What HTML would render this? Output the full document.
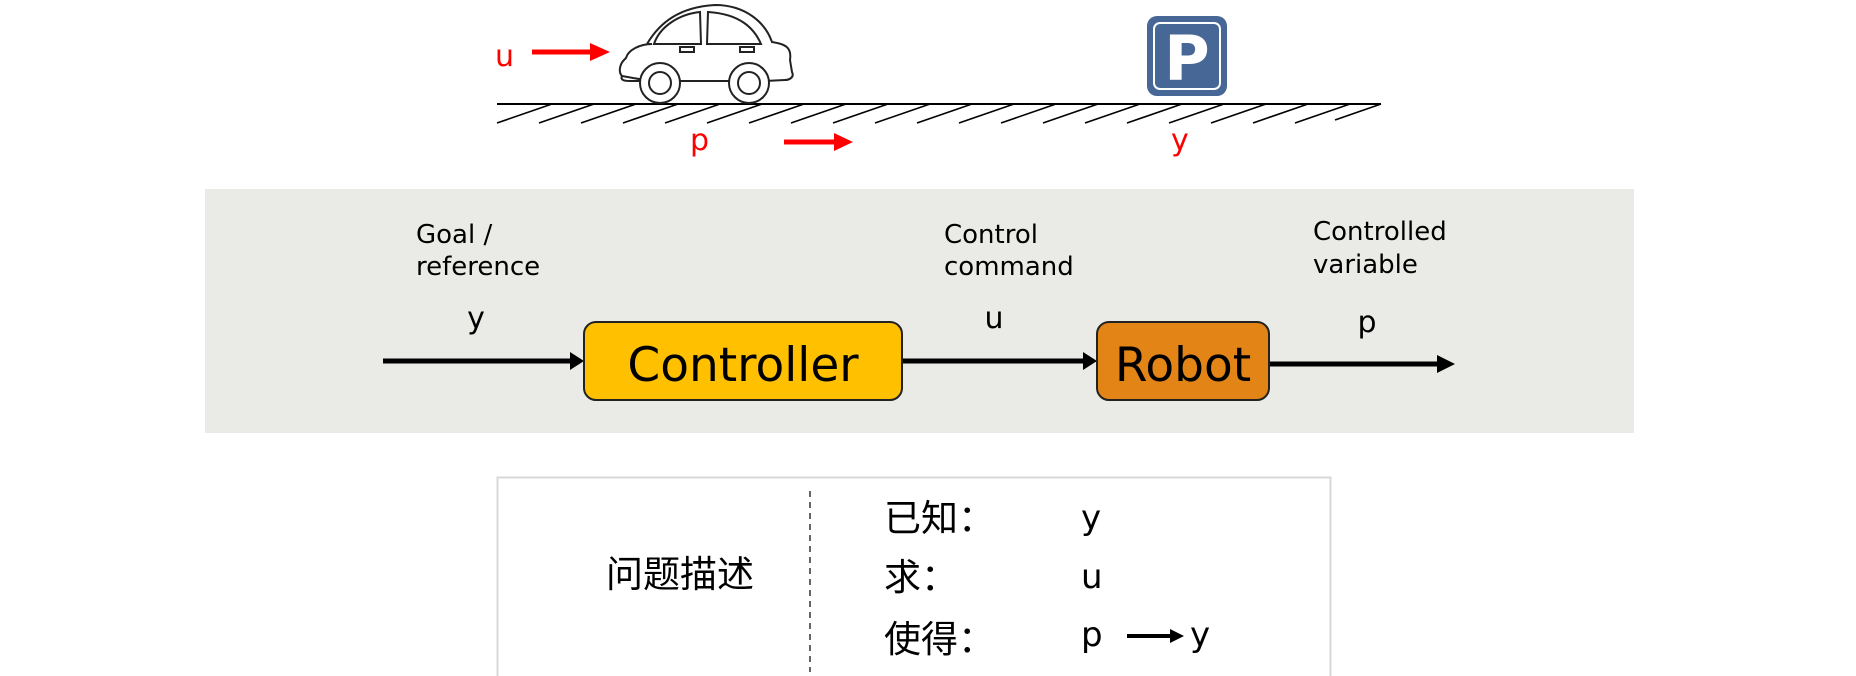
<!DOCTYPE html>
<html><head><meta charset="utf-8"><style>
html,body{margin:0;padding:0;background:#fff;}
svg{display:block}
text{font-family:"DejaVu Sans","Liberation Sans","Noto Sans CJK SC",sans-serif;}
.cjk{font-family:"Noto Sans CJK SC","WenQuanYi Zen Hei",sans-serif;}
</style></head><body>
<svg width="1856" height="676" viewBox="0 0 1856 676" xmlns="http://www.w3.org/2000/svg">
<!-- ground -->
<line x1="497" y1="104" x2="1381" y2="104" stroke="#000" stroke-width="2"/>
<g stroke="#000" stroke-width="1.6">
<path d="M552,104 l-55,19 M594,104 l-55,19 M636,104 l-55,19 M678,104 l-55,19 M720,104 l-55,19 M762,104 l-55,19 M804,104 l-55,19 M846,104 l-55,19 M888,104 l-55,19 M930,104 l-55,19 M972,104 l-55,19 M1014,104 l-55,19 M1056,104 l-55,19 M1098,104 l-55,19 M1140,104 l-55,19 M1182,104 l-55,19 M1224,104 l-55,19 M1266,104 l-55,19 M1308,104 l-55,19 M1350,104 l-55,19 M1381,104 l-46,16"/>
</g>
<!-- car -->
<g fill="none" stroke="#222" stroke-width="2">
<path d="M622,76 C618,72 620,64 624,60 L626,58 C628,50 640,44 652,44 L647,44 C660,22 680,7 715,5 C745,5 765,22 772,42 C785,44 792,47 790,60 L792,72 C795,78 788,80 785,80 L765,81 M735,81 L680,81 M650,81 L630,81 C624,81 620,80 622,76Z"/>
<path d="M654,44 L701,44 L700,12 C680,14 660,26 654,44Z"/>
<path d="M707,44 L761,44 C754,28 740,14 708,12Z"/>
<rect x="680" y="47" width="14" height="5"/><rect x="740" y="47" width="14" height="5"/>
<circle cx="660" cy="83" r="20" fill="#fff"/><circle cx="660" cy="83" r="11"/>
<circle cx="749" cy="83" r="20" fill="#fff"/><circle cx="749" cy="83" r="11"/>
</g>
<!-- red labels -->
<text x="495" y="66" font-size="30" fill="#f00">u</text>
<line x1="532" y1="52" x2="592" y2="52" stroke="#f00" stroke-width="5"/>
<path d="M590,43 L610,52 L590,61z" fill="#f00"/>
<text x="690" y="150" font-size="30" fill="#f00">p</text>
<line x1="784" y1="142" x2="836" y2="142" stroke="#f00" stroke-width="5"/>
<path d="M834,133 L853,142 L834,151z" fill="#f00"/>
<text x="1171" y="150" font-size="30" fill="#f00">y</text>
<!-- parking sign -->
<rect x="1147" y="16" width="80" height="80" rx="10" fill="#476896"/>
<rect x="1154" y="23" width="66" height="66" rx="6" fill="none" stroke="#fff" stroke-width="2"/>
<text x="1187" y="80" font-size="62" font-weight="bold" fill="#fff" text-anchor="middle" font-family="Liberation Sans, sans-serif">P</text>
<!-- panel -->
<rect x="205" y="189" width="1429" height="244" fill="#eaeae6"/>
<g font-size="26" fill="#000">
<text x="416" y="243">Goal /</text><text x="416" y="275">reference</text>
<text x="944" y="243">Control</text><text x="944" y="275">command</text>
<text x="1313" y="240">Controlled</text><text x="1313" y="273">variable</text>
<text x="476" y="328" font-size="30" text-anchor="middle">y</text>
<text x="994" y="328" font-size="30" text-anchor="middle">u</text>
<text x="1367" y="332" font-size="30" text-anchor="middle">p</text>
</g>
<g stroke="#000" stroke-width="5">
<line x1="383" y1="361" x2="574" y2="361"/>
<line x1="902" y1="361" x2="1087" y2="361"/>
<line x1="1269" y1="364" x2="1445" y2="364"/>
</g>
<path d="M570,352 L584,361 L570,370z M1083,352 L1097,361 L1083,370z M1437,355 L1455,364 L1437,373z" fill="#000"/>
<rect x="584" y="322" width="318" height="78" rx="12" fill="#ffc000" stroke="#222" stroke-width="2"/>
<rect x="1097" y="322" width="172" height="78" rx="12" fill="#e38416" stroke="#222" stroke-width="2"/>
<text x="743" y="381" font-size="47" text-anchor="middle">Controller</text>
<text x="1183" y="381" font-size="47" text-anchor="middle">Robot</text>
<!-- bottom box -->
<rect x="497.5" y="477.5" width="833" height="210" fill="none" stroke="#d8d8d8" stroke-width="2"/>
<line x1="810" y1="491" x2="810" y2="672" stroke="#333" stroke-width="1.5" stroke-dasharray="6,5"/>
<g class="cjk" font-size="37" fill="#000">
<text x="606" y="587" class="cjk">问题描述</text>
<text x="884" y="531" class="cjk">已知：</text>
<text x="884" y="590" class="cjk">求：</text>
<text x="884" y="652" class="cjk">使得：</text>
</g>
<g font-size="34" fill="#000">
<text x="1081" y="529">y</text>
<text x="1081" y="588">u</text>
<text x="1081" y="646">p</text>
<text x="1190" y="646">y</text>
</g>
<line x1="1127" y1="636" x2="1172" y2="636" stroke="#000" stroke-width="4"/>
<path d="M1170,629 L1184,636 L1170,643z" fill="#000"/>
</svg>
</body></html>
